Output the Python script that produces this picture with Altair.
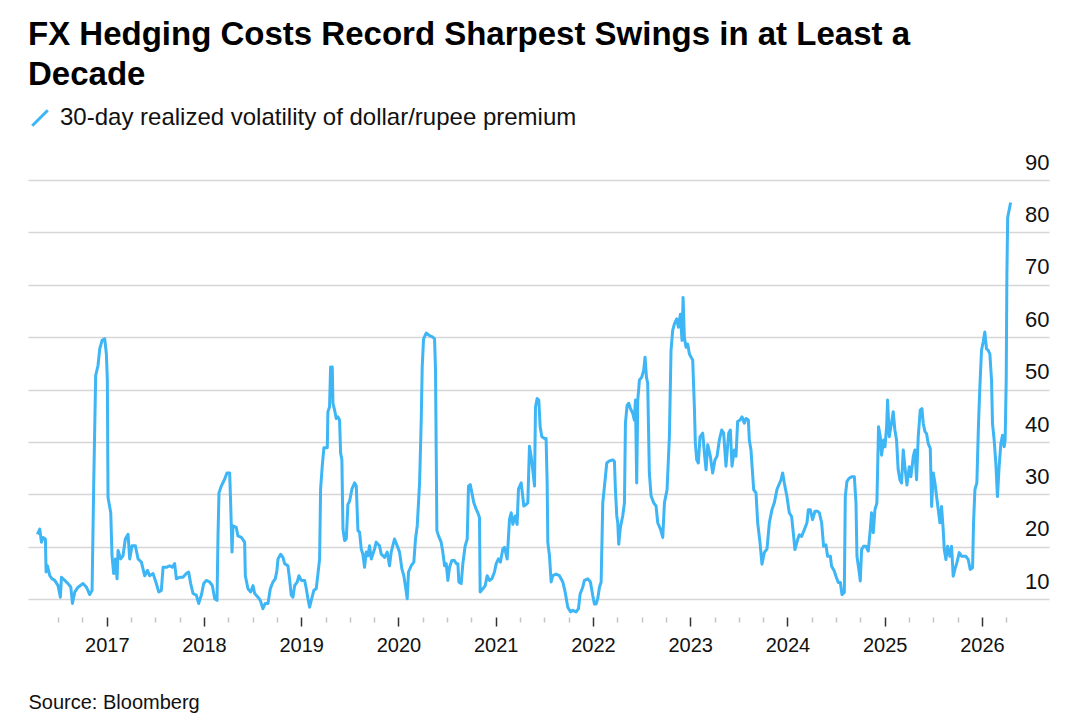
import altair as alt
import pandas as pd

# ---- data (decimal year, 30-day realized vol) ----
years = [
    2016.287, 2016.311, 2016.328, 2016.345, 2016.369, 2016.376, 2016.390, 2016.414, 2016.438, 2016.465,
    2016.499, 2016.523, 2016.534, 2016.568, 2016.602, 2016.630, 2016.647, 2016.671, 2016.705, 2016.756,
    2016.791, 2016.825, 2016.849, 2016.866, 2016.886, 2016.910, 2016.928, 2016.952, 2016.979, 2016.996,
    2017.006, 2017.013, 2017.041, 2017.054, 2017.071, 2017.089, 2017.106, 2017.116, 2017.143, 2017.167,
    2017.191, 2017.219, 2017.236, 2017.260, 2017.294, 2017.322, 2017.356, 2017.390, 2017.418, 2017.441,
    2017.476, 2017.510, 2017.534, 2017.561, 2017.579, 2017.613, 2017.647, 2017.674, 2017.698, 2017.716,
    2017.750, 2017.784, 2017.818, 2017.842, 2017.863, 2017.887, 2017.921, 2017.945, 2017.973, 2017.997,
    2018.024, 2018.058, 2018.086, 2018.110, 2018.134, 2018.144, 2018.154, 2018.178, 2018.212, 2018.236,
    2018.264, 2018.274, 2018.288, 2018.298, 2018.332, 2018.349, 2018.384, 2018.418, 2018.425, 2018.452,
    2018.480, 2018.504, 2018.521, 2018.555, 2018.579, 2018.606, 2018.630, 2018.658, 2018.682, 2018.709,
    2018.733, 2018.750, 2018.761, 2018.788, 2018.812, 2018.829, 2018.863, 2018.880, 2018.897, 2018.915,
    2018.932, 2018.959, 2018.976, 2019.000, 2019.035, 2019.052, 2019.069, 2019.086, 2019.103, 2019.130,
    2019.154, 2019.172, 2019.189, 2019.199, 2019.216, 2019.233, 2019.268, 2019.274, 2019.291, 2019.302,
    2019.319, 2019.326, 2019.343, 2019.360, 2019.377, 2019.394, 2019.405, 2019.418, 2019.429, 2019.446,
    2019.463, 2019.480, 2019.497, 2019.521, 2019.549, 2019.566, 2019.583, 2019.600, 2019.617, 2019.634,
    2019.651, 2019.668, 2019.686, 2019.703, 2019.720, 2019.754, 2019.771, 2019.805, 2019.823, 2019.857,
    2019.884, 2019.908, 2019.925, 2019.959, 2019.987, 2020.011, 2020.035, 2020.055, 2020.073, 2020.090,
    2020.103, 2020.131, 2020.158, 2020.175, 2020.193, 2020.217, 2020.234, 2020.244, 2020.258, 2020.285,
    2020.319, 2020.354, 2020.371, 2020.381, 2020.388, 2020.395, 2020.412, 2020.439, 2020.456, 2020.474,
    2020.491, 2020.508, 2020.525, 2020.549, 2020.576, 2020.594, 2020.611, 2020.621, 2020.645, 2020.662,
    2020.686, 2020.707, 2020.720, 2020.738, 2020.755, 2020.775, 2020.799, 2020.816, 2020.833, 2020.840,
    2020.868, 2020.892, 2020.912, 2020.936, 2020.960, 2020.987, 2021.005, 2021.028, 2021.049, 2021.073,
    2021.090, 2021.118, 2021.142, 2021.159, 2021.176, 2021.200, 2021.220, 2021.234, 2021.262, 2021.289,
    2021.313, 2021.330, 2021.347, 2021.364, 2021.381, 2021.399, 2021.409, 2021.426, 2021.443, 2021.457,
    2021.474, 2021.501, 2021.518, 2021.529, 2021.536, 2021.553, 2021.570, 2021.587, 2021.621, 2021.655,
    2021.690, 2021.714, 2021.741, 2021.769, 2021.793, 2021.827, 2021.851, 2021.868, 2021.895, 2021.912,
    2021.947, 2021.974, 2021.998, 2022.015, 2022.032, 2022.049, 2022.067, 2022.084, 2022.101, 2022.125,
    2022.142, 2022.169, 2022.204, 2022.221, 2022.231, 2022.245, 2022.255, 2022.265, 2022.282, 2022.306,
    2022.324, 2022.334, 2022.351, 2022.368, 2022.385, 2022.409, 2022.426, 2022.437, 2022.450, 2022.461,
    2022.478, 2022.502, 2022.522, 2022.536, 2022.550, 2022.563, 2022.580, 2022.598, 2022.625, 2022.649,
    2022.666, 2022.694, 2022.718, 2022.735, 2022.762, 2022.786, 2022.803, 2022.820, 2022.837, 2022.861,
    2022.879, 2022.899, 2022.916, 2022.927, 2022.940, 2022.957, 2022.974, 2022.992, 2023.009, 2023.026,
    2023.043, 2023.053, 2023.067, 2023.084, 2023.101, 2023.129, 2023.146, 2023.163, 2023.180, 2023.207,
    2023.231, 2023.255, 2023.276, 2023.300, 2023.324, 2023.344, 2023.368, 2023.396, 2023.413, 2023.430,
    2023.454, 2023.471, 2023.488, 2023.512, 2023.533, 2023.557, 2023.574, 2023.598, 2023.608, 2023.625,
    2023.653, 2023.677, 2023.694, 2023.718, 2023.738, 2023.762, 2023.790, 2023.814, 2023.841, 2023.865,
    2023.893, 2023.934, 2023.951, 2023.968, 2023.995, 2024.019, 2024.043, 2024.064, 2024.077, 2024.105,
    2024.122, 2024.146, 2024.174, 2024.201, 2024.215, 2024.235, 2024.259, 2024.283, 2024.311, 2024.328,
    2024.352, 2024.372, 2024.396, 2024.413, 2024.441, 2024.454, 2024.482, 2024.499, 2024.523, 2024.544,
    2024.561, 2024.585, 2024.595, 2024.612, 2024.636, 2024.660, 2024.688, 2024.705, 2024.715, 2024.739,
    2024.749, 2024.763, 2024.783, 2024.807, 2024.831, 2024.852, 2024.865, 2024.883, 2024.900, 2024.920,
    2024.937, 2024.955, 2024.968, 2024.989, 2025.003, 2025.020, 2025.030, 2025.047, 2025.064, 2025.088,
    2025.105, 2025.122, 2025.139, 2025.157, 2025.174, 2025.191, 2025.208, 2025.229, 2025.253, 2025.270,
    2025.294, 2025.311, 2025.328, 2025.345, 2025.366, 2025.383, 2025.397, 2025.414, 2025.431, 2025.448,
    2025.469, 2025.483, 2025.500, 2025.517, 2025.534, 2025.551, 2025.568, 2025.585, 2025.602, 2025.613,
    2025.630, 2025.647, 2025.671, 2025.688, 2025.705, 2025.722, 2025.743, 2025.767, 2025.791, 2025.811,
    2025.835, 2025.859, 2025.880, 2025.904, 2025.914, 2025.928, 2025.948, 2025.965, 2025.979, 2025.996,
    2026.013, 2026.030, 2026.047, 2026.065, 2026.082, 2026.099, 2026.109, 2026.126, 2026.143, 2026.153,
    2026.160, 2026.177, 2026.195, 2026.212, 2026.229, 2026.239, 2026.250, 2026.257, 2026.265, 2026.272,
    2026.288, 2026.295,
]
vol = [
    22.4, 23.4, 20.9, 21.8, 21.5, 15.2, 16.4, 14.5, 13.9, 13.6,
    12.6, 10.4, 14.2, 13.6, 13.0, 12.3, 9.2, 11.4, 12.3, 13.0,
    12.3, 10.9, 11.7, 32.2, 52.7, 54.6, 57.8, 59.4, 59.7, 56.8,
    51.8, 29.4, 26.5, 18.3, 14.9, 17.7, 13.9, 19.3, 17.7, 18.3,
    21.5, 22.4, 17.7, 20.2, 20.2, 17.7, 17.1, 14.5, 15.5, 14.5,
    14.9, 13.0, 11.4, 11.7, 16.1, 16.1, 16.4, 16.1, 16.8, 13.9,
    14.2, 14.2, 14.9, 15.2, 13.0, 11.1, 10.8, 9.2, 10.8, 13.0,
    13.6, 13.3, 12.6, 10.1, 9.8, 22.1, 30.3, 31.6, 32.9, 34.1,
    34.1, 28.4, 19.0, 24.0, 23.7, 22.1, 21.8, 20.9, 14.5, 12.0,
    11.4, 12.6, 11.1, 10.4, 9.8, 8.2, 9.2, 9.2, 12.0, 13.3,
    13.9, 15.5, 17.7, 18.6, 18.0, 16.8, 16.4, 13.9, 10.8, 10.4,
    12.6, 13.3, 14.5, 13.6, 13.6, 12.0, 10.1, 8.5, 9.8, 11.7,
    12.0, 14.9, 17.7, 31.0, 35.4, 38.9, 38.9, 45.8, 46.7, 54.3,
    54.3, 47.4, 46.1, 44.5, 44.8, 44.2, 37.9, 36.6, 23.4, 21.2,
    21.5, 28.1, 28.7, 31.0, 32.2, 31.6, 23.1, 22.8, 19.6, 18.6,
    16.1, 19.0, 18.3, 20.2, 17.7, 19.6, 20.9, 20.2, 18.6, 18.0,
    19.0, 16.4, 19.0, 21.5, 20.2, 19.0, 15.8, 14.5, 12.3, 10.1,
    15.2, 16.4, 17.1, 21.5, 24.0, 32.2, 44.2, 54.3, 59.7, 60.8,
    60.3, 60.0, 59.7, 53.7, 37.9, 23.1, 22.1, 20.9, 19.0, 16.4,
    16.8, 13.6, 16.1, 17.4, 17.4, 16.8, 16.8, 13.3, 13.0, 16.8,
    20.2, 21.5, 31.6, 31.9, 30.3, 28.4, 27.2, 26.5, 25.6, 11.4,
    12.0, 12.6, 14.5, 13.6, 13.9, 15.2, 16.8, 17.7, 17.1, 19.6,
    19.9, 17.7, 25.3, 26.5, 24.3, 25.9, 24.3, 31.0, 32.2, 27.8,
    28.1, 28.4, 39.2, 37.3, 34.7, 31.6, 46.7, 48.3, 48.0, 42.9,
    41.0, 40.7, 40.7, 32.2, 20.8, 18.3, 13.3, 14.5, 14.8, 14.5,
    13.3, 11.4, 8.5, 7.6, 7.9, 7.6, 8.2, 11.0, 12.3, 13.6,
    13.9, 13.3, 10.7, 9.1, 9.1, 10.1, 12.3, 13.3, 28.4, 32.8,
    36.0, 36.4, 36.6, 36.3, 30.9, 25.9, 24.6, 20.5, 23.7, 25.9,
    28.4, 43.6, 47.0, 47.4, 46.4, 45.5, 44.2, 48.0, 32.2, 48.0,
    51.8, 52.4, 53.7, 56.2, 52.4, 51.2, 34.1, 29.7, 28.4, 27.8,
    24.6, 23.4, 21.8, 28.4, 30.9, 41.0, 57.5, 61.3, 62.5, 63.5,
    61.9, 64.4, 59.4, 67.6, 60.0, 58.1, 58.7, 56.8, 56.2, 55.6,
    46.7, 39.8, 36.6, 36.0, 41.0, 41.7, 37.9, 34.7, 39.5, 37.3,
    34.1, 36.6, 37.3, 40.4, 42.3, 41.7, 35.4, 41.7, 42.3, 35.4,
    38.5, 37.3, 43.9, 44.2, 44.8, 43.6, 44.5, 44.2, 40.4, 38.5,
    30.9, 30.3, 24.6, 20.8, 16.7, 18.9, 19.6, 24.6, 27.1, 28.4,
    31.0, 32.8, 34.1, 32.2, 29.6, 26.5, 25.8, 22.0, 19.5, 21.4,
    22.3, 22.0, 23.3, 24.6, 27.1, 27.1, 25.2, 26.8, 26.8, 26.5,
    24.6, 20.1, 20.4, 18.2, 18.2, 16.3, 15.4, 14.4, 13.2, 13.2,
    10.9, 11.3, 29.6, 32.5, 33.1, 33.4, 33.4, 28.4, 18.2, 15.1,
    13.5, 19.5, 20.1, 20.1, 19.2, 23.3, 26.5, 22.7, 27.1, 28.4,
    42.9, 41.0, 37.5, 40.4, 39.1, 42.9, 48.0, 41.0, 42.9, 45.8,
    42.3, 40.4, 34.7, 32.8, 32.2, 38.5, 35.3, 31.8, 35.3, 33.4,
    37.2, 38.5, 32.8, 41.0, 46.1, 46.4, 43.5, 42.0, 41.6, 39.7,
    38.8, 27.7, 34.1, 32.2, 29.6, 27.1, 24.6, 27.7, 23.3, 19.5,
    17.6, 20.1, 18.2, 20.1, 14.4, 15.7, 17.0, 18.9, 18.2, 18.2,
    18.2, 17.6, 15.7, 16.0, 24.6, 30.9, 32.2, 43.5, 50.5, 57.5,
    59.1, 61.0, 57.8, 57.5, 56.8, 51.8, 43.5, 40.4, 36.0, 32.2,
    29.6, 35.3, 39.7, 41.3, 39.1, 40.4, 52.0, 72.0, 82.8, 83.5,
    85.0, 85.7,
]

series_name = "30-day realized volatility of dollar/rupee premium"
title_lines = ["FX Hedging Costs Record Sharpest Swings in at Least a", "Decade"]
source_text = "Source: Bloomberg"
y_ticks = [10, 20, 30, 40, 50, 60, 70, 80, 90]
x_ticks = [
    2016.5, 2016.75,
    2017, 2017.25, 2017.5, 2017.75, 2018, 2018.25, 2018.5, 2018.75,
    2019, 2019.25, 2019.5, 2019.75, 2020, 2020.25, 2020.5, 2020.75,
    2021, 2021.25, 2021.5, 2021.75, 2022, 2022.25, 2022.5, 2022.75,
    2023, 2023.25, 2023.5, 2023.75, 2024, 2024.25, 2024.5, 2024.75,
    2025, 2025.25, 2025.5, 2025.75, 2026, 2026.25,
]

df = pd.DataFrame({"year": years, "vol": vol, "series": series_name})

FONT = "Liberation Sans, Arial, Helvetica, sans-serif"
LINE_COLOR = "#3eb5f5"
is_year = "datum.value % 1 === 0"

x_axis = alt.Axis(
    values=x_ticks,
    labelExpr=f"{is_year} ? format(datum.value, 'd') : ''",
    labelOverlap=False,
    labelFlush=False,
    labelFont=FONT,
    labelFontSize=20,
    labelColor="#111111",
    labelBaseline="alphabetic",
    labelPadding=25,
    domain=False,
    grid=False,
    offset=2,
    tickSize={"condition": {"test": is_year, "value": 9}, "value": 5},
    tickColor={"condition": {"test": is_year, "value": "#333333"}, "value": "#c4c4c4"},
    tickWidth=1.5,
    title=source_text,
    titleFont=FONT,
    titleFontSize=20,
    titleFontWeight="normal",
    titleColor="#111111",
    titleAnchor="start",
    titleAlign="left",
    titleBaseline="alphabetic",
    titleX=0,
    titleY=91,
)

y_axis = alt.Axis(
    orient="right",
    values=y_ticks,
    ticks=False,
    domain=False,
    labelAlign="right",
    labelPadding=0,
    labelBaseline="alphabetic",
    labelOffset=-11,
    labelFont=FONT,
    labelFontSize=22,
    labelColor="#111111",
    grid=True,
    gridColor="#d6d6d6",
    gridWidth=1.5,
    title=None,
)

legend = alt.Legend(
    title=None,
    orient="none",
    legendX=0,
    legendY=-74,
    symbolType="M-1,1L1,-1",
    symbolSize=240,
    symbolStrokeWidth=3,
    labelFont=FONT,
    labelFontSize=24,
    labelColor="#111111",
    labelLimit=800,
    labelOffset=8,
    padding=0,
)

chart = (
    alt.Chart(df)
    .mark_line(strokeWidth=3, strokeJoin="round")
    .encode(
        x=alt.X("year:Q", scale=alt.Scale(domain=[2016.19, 2026.69], nice=False, zero=False), axis=x_axis),
        y=alt.Y("vol:Q", scale=alt.Scale(domain=[7, 90], nice=False, zero=False), axis=y_axis),
        color=alt.Color("series:N", scale=alt.Scale(range=[LINE_COLOR]), legend=legend),
    )
    .properties(
        width=1021,
        height=435,
        title=alt.TitleParams(
            text=title_lines,
            anchor="start",
            frame="group",
            font=FONT,
            fontSize=33,
            fontWeight="bold",
            color="#000000",
            lineHeight=40,
            offset=14,
        ),
        padding={"left": 20, "top": 11, "right": 10, "bottom": 4},
        background="white",
    )
    .configure_view(stroke=None)
)

chart.save("out.html", embed_options={"renderer": "svg", "actions": False})
